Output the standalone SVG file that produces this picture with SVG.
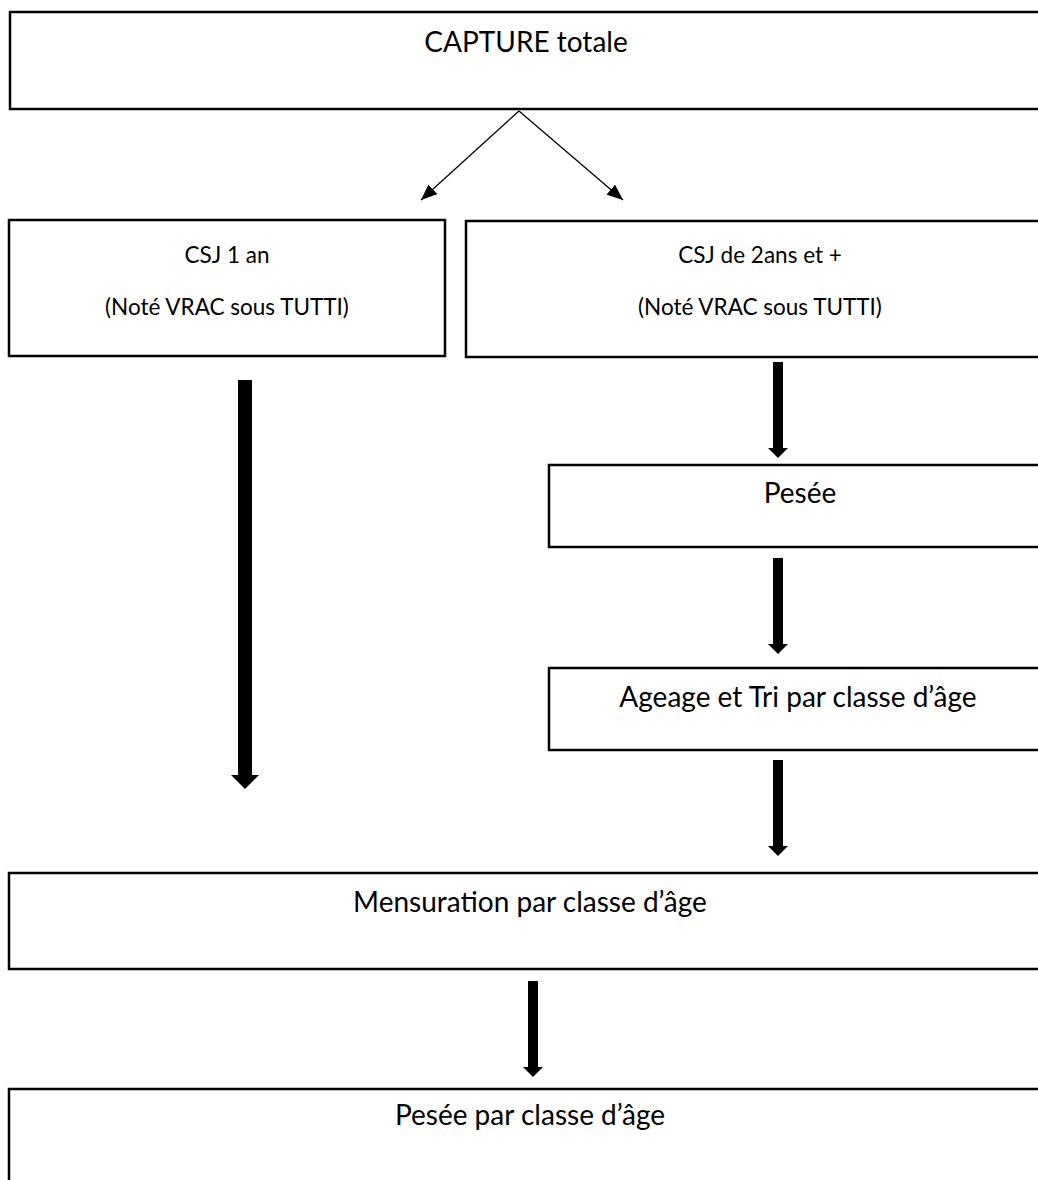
<svg xmlns="http://www.w3.org/2000/svg" width="1038" height="1180" viewBox="0 0 1038 1180">
<style>
.box{fill:#fff;stroke:#000;stroke-width:2.5}
.t{font-family:Lato,"Liberation Sans",sans-serif;font-size:28px;fill:#000;text-anchor:middle}
.s{font-size:22.5px}
.thin{stroke:#000;stroke-width:1.3;fill:none}
.thick{stroke:#000;fill:none}
</style>
<defs>
<marker id="ah" markerUnits="userSpaceOnUse" markerWidth="16" markerHeight="13" refX="16" refY="6.5" orient="auto" viewBox="0 0 16 13"><path d="M0,0 L16,6.5 L0,13 z" fill="#000"/></marker>
<marker id="bh" markerUnits="strokeWidth" markerWidth="1" markerHeight="2" refX="0" refY="1" orient="auto" viewBox="0 0 1 2"><path d="M0,0 L1,1 L0,2 z" fill="#000"/></marker>
</defs>
<rect width="1038" height="1180" fill="#fff"/>
<g id="capture"><rect class="box" x="10" y="12" width="1040" height="97"/><text class="t" x="526" y="52">CAPTURE totale</text></g>
<g id="csj1"><rect class="box" x="9" y="220" width="436" height="136"/><text class="t s" x="227" y="263">CSJ 1 an</text><text class="t s" x="227" y="315">(Noté VRAC sous TUTTI)</text></g>
<g id="csj2"><rect class="box" x="466" y="221" width="590" height="136"/><text class="t s" x="760" y="263">CSJ de 2ans et +</text><text class="t s" x="760" y="315">(Noté VRAC sous TUTTI)</text></g>
<g id="pesee"><rect class="box" x="549" y="465" width="500" height="82"/><text class="t" x="800" y="503">Pesée</text></g>
<g id="ageage"><rect class="box" x="549" y="668" width="500" height="82"/><text class="t" x="798" y="707">Ageage et Tri par classe d’âge</text></g>
<g id="mensuration"><rect class="box" x="9" y="873" width="1040" height="96"/><text class="t" x="530" y="912">Mensuration par classe d’âge</text></g>
<g id="pesee-classe"><rect class="box" x="9" y="1089" width="1040" height="120"/><text class="t" x="530" y="1125">Pesée par classe d’âge</text></g>
<g id="connectors">
<line class="thin" x1="519" y1="111" x2="421" y2="200" marker-end="url(#ah)"/>
<line class="thin" x1="519" y1="111" x2="623" y2="200" marker-end="url(#ah)"/>
<line class="thick" x1="245" y1="380" x2="245" y2="775" stroke-width="14" marker-end="url(#bh)"/>
<line class="thick" x1="778" y1="362" x2="778" y2="448" stroke-width="10" marker-end="url(#bh)"/>
<line class="thick" x1="778" y1="558" x2="778" y2="644" stroke-width="10" marker-end="url(#bh)"/>
<line class="thick" x1="778" y1="760" x2="778" y2="846" stroke-width="10" marker-end="url(#bh)"/>
<line class="thick" x1="533" y1="981" x2="533" y2="1067" stroke-width="10" marker-end="url(#bh)"/>
</g>
</svg>
